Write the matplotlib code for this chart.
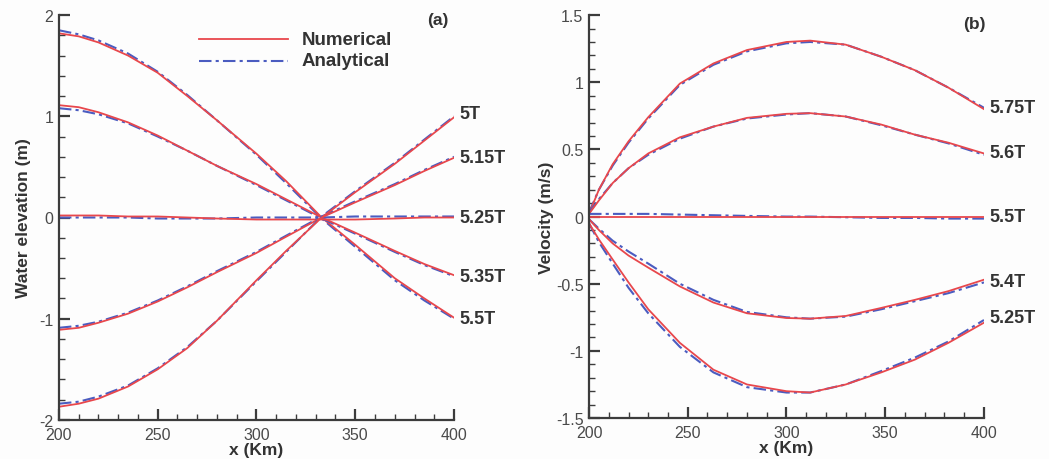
import matplotlib
matplotlib.use("Agg")
import matplotlib.pyplot as plt
from matplotlib.ticker import MultipleLocator, FormatStrFormatter

plt.rcParams['font.family'] = ['Liberation Sans', 'DejaVu Sans']
plt.rcParams['axes.unicode_minus'] = False

# ---- panel (a): water elevation ----
xa = [200, 210, 220, 235, 250, 265, 280, 300, 315, 333, 350, 370, 385, 400]
labels_a = ['5.5T', '5.35T', '5.25T', '5.15T', '5T']
num_a = [
    [1.82, 1.79, 1.73, 1.60, 1.43, 1.20, 0.96, 0.63, 0.36, 0.0, -0.27, -0.60, -0.80, -0.99],
    [1.11, 1.09, 1.04, 0.94, 0.81, 0.66, 0.51, 0.33, 0.18, 0.0, -0.15, -0.33, -0.46, -0.57],
    [0.02, 0.02, 0.02, 0.01, 0.01, 0.0, -0.01, -0.02, -0.02, -0.02, -0.02, -0.01, 0.0, 0.0],
    [-1.11, -1.09, -1.04, -0.95, -0.83, -0.69, -0.54, -0.35, -0.19, 0.0, 0.15, 0.32, 0.46, 0.59],
    [-1.87, -1.84, -1.79, -1.67, -1.50, -1.29, -1.02, -0.62, -0.33, 0.0, 0.25, 0.53, 0.76, 0.99],
]
ana_a = [
    [1.85, 1.81, 1.75, 1.62, 1.44, 1.21, 0.96, 0.62, 0.34, -0.01, -0.29, -0.62, -0.82, -1.00],
    [1.08, 1.06, 1.02, 0.93, 0.80, 0.66, 0.51, 0.32, 0.17, -0.01, -0.16, -0.34, -0.47, -0.58],
    [0.0, 0.0, 0.0, 0.0, -0.01, -0.01, -0.01, 0.0, 0.0, 0.0, 0.01, 0.01, 0.01, 0.01],
    [-1.09, -1.07, -1.03, -0.94, -0.82, -0.68, -0.53, -0.34, -0.18, 0.01, 0.16, 0.33, 0.47, 0.60],
    [-1.84, -1.82, -1.77, -1.66, -1.49, -1.28, -1.02, -0.63, -0.34, 0.01, 0.26, 0.54, 0.77, 1.00],
]
label_y_a = [-1.0, -0.58, 0.0, 0.59, 1.03]

# ---- panel (b): velocity ----
xb = [200, 205, 212, 220, 230, 246, 263, 280, 300, 312, 330, 348, 365, 382, 400]
labels_b = ['5.75T', '5.6T', '5.5T', '5.4T', '5.25T']
num_b = [
    [0.02, 0.20, 0.39, 0.56, 0.74, 0.99, 1.14, 1.24, 1.30, 1.31, 1.28, 1.19, 1.09, 0.96, 0.80],
    [0.02, 0.12, 0.25, 0.36, 0.47, 0.59, 0.67, 0.735, 0.765, 0.77, 0.745, 0.685, 0.61, 0.55, 0.47],
    [0.0, 0.0, 0.0, 0.0, 0.0, 0.0, 0.0, 0.0, 0.0, 0.0, 0.0, 0.0, 0.0, 0.0, 0.0],
    [-0.02, -0.10, -0.20, -0.29, -0.38, -0.52, -0.64, -0.72, -0.755, -0.76, -0.74, -0.68, -0.62, -0.555, -0.47],
    [-0.05, -0.17, -0.32, -0.49, -0.69, -0.94, -1.14, -1.25, -1.30, -1.31, -1.25, -1.16, -1.065, -0.94, -0.79],
]
ana_b = [
    [0.03, 0.20, 0.38, 0.55, 0.73, 0.98, 1.13, 1.23, 1.29, 1.30, 1.28, 1.19, 1.09, 0.96, 0.81],
    [0.03, 0.13, 0.25, 0.36, 0.46, 0.58, 0.67, 0.73, 0.76, 0.77, 0.745, 0.68, 0.61, 0.545, 0.46],
    [0.02, 0.02, 0.02, 0.02, 0.02, 0.015, 0.01, 0.005, 0.0, 0.0, -0.005, -0.01, -0.01, -0.015, -0.015],
    [-0.02, -0.09, -0.18, -0.26, -0.35, -0.50, -0.62, -0.71, -0.75, -0.76, -0.745, -0.69, -0.63, -0.57, -0.49],
    [-0.05, -0.19, -0.35, -0.53, -0.72, -0.97, -1.16, -1.27, -1.31, -1.31, -1.25, -1.15, -1.05, -0.93, -0.77],
]
label_y_b = [0.81, 0.48, 0.0, -0.48, -0.75]

RED = '#e8474c'
BLUE = '#4b5cc0'
GREY = '#4a4a4a'
DASH = (0, (6, 2, 1.5, 2))


def style_axes(ax, ylim, ymaj, ymin):
    ax.set_xlim(200, 400)
    ax.set_ylim(*ylim)
    ax.spines['top'].set_visible(False)
    ax.spines['right'].set_visible(False)
    for s in ['left', 'bottom']:
        ax.spines[s].set_linewidth(1.6)
        ax.spines[s].set_color('#3c3c3c')
    ax.xaxis.set_major_locator(MultipleLocator(50))
    ax.xaxis.set_minor_locator(MultipleLocator(10))
    ax.yaxis.set_major_locator(MultipleLocator(ymaj))
    ax.yaxis.set_minor_locator(MultipleLocator(ymin))
    ax.yaxis.set_major_formatter(FormatStrFormatter('%g'))
    ax.tick_params(which='major', direction='in', length=8, width=1.6,
                   color='#3c3c3c', labelsize=11.5, labelcolor=GREY)
    ax.tick_params(axis='x', which='major', pad=5)
    ax.tick_params(axis='y', which='major', pad=4)
    ax.tick_params(which='minor', direction='in', length=4, width=1.0,
                   color='#3c3c3c')
    ax.set_xlabel('x (Km)', fontsize=12.5, fontweight='bold', color='#333333', labelpad=0)
    ax.patch.set_alpha(0)


fig = plt.figure(figsize=(10.49, 4.6), dpi=100)
fig.patch.set_facecolor('#fdfdfd')

ax1 = fig.add_axes([0.0562, 0.085, 0.3766, 0.880])
for n, a in zip(num_a, ana_a):
    ax1.plot(xa, a, color=BLUE, lw=1.5, linestyle=DASH)
    ax1.plot(xa, n, color=RED, lw=1.3)
style_axes(ax1, (-2, 2), 1, 0.2)
ax1.set_ylabel('Water elevation (m)', fontsize=12.5, fontweight='bold', color='#333333', labelpad=6)
for lab, y in zip(labels_a, label_y_a):
    ax1.text(403, y, lab, fontsize=13, fontweight='bold', color='#333333',
             va='center', ha='left', clip_on=False)
ax1.text(392, 1.96, '(a)', fontsize=12.5, fontweight='bold', color='#333333', ha='center', va='center')
# legend
ax1.plot([271, 316], [1.76, 1.76], color=RED, lw=1.3)
ax1.plot([271, 316], [1.55, 1.55], color=BLUE, lw=1.5, linestyle=DASH)
ax1.text(323, 1.76, 'Numerical', fontsize=13.5, fontweight='bold', color='#333333', va='center')
ax1.text(323, 1.55, 'Analytical', fontsize=13.5, fontweight='bold', color='#333333', va='center')

ax2 = fig.add_axes([0.5615, 0.089, 0.3765, 0.876])
for n, a in zip(num_b, ana_b):
    ax2.plot(xb, a, color=BLUE, lw=1.5, linestyle=DASH)
    ax2.plot(xb, n, color=RED, lw=1.3)
style_axes(ax2, (-1.5, 1.5), 0.5, 0.1)
ax2.set_ylabel('Velocity (m/s)', fontsize=12.5, fontweight='bold', color='#333333', labelpad=1)
for lab, y in zip(labels_b, label_y_b):
    ax2.text(403, y, lab, fontsize=13, fontweight='bold', color='#333333',
             va='center', ha='left', clip_on=False)
ax2.text(395, 1.44, '(b)', fontsize=12.5, fontweight='bold', color='#333333', ha='center', va='center')

fig.savefig('out.png', dpi=100, facecolor=fig.get_facecolor())
